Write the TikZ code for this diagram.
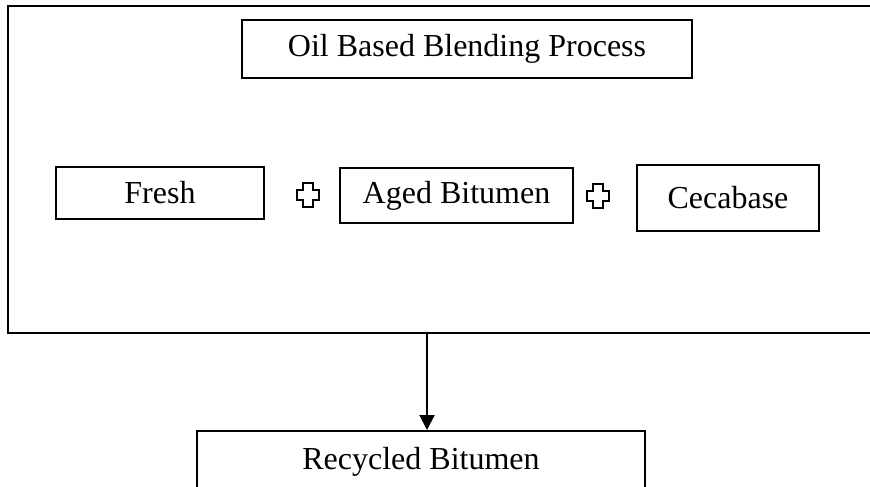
\documentclass[tikz,border=0pt]{standalone}
\usepackage{fontspec}
\setmainfont{Liberation Serif}
\usetikzlibrary{arrows.meta,positioning}

\begin{document}
\begin{tikzpicture}[
  x=1pt,
  y=-1pt,
  box/.style={
    rectangle,
    draw=black,
    line width=2pt,
    align=center,
    inner sep=0pt,
    font=\fontsize{32}{38}\selectfont
  },
  frame/.style={
    rectangle,
    draw=black,
    line width=2.6pt,
    inner sep=0pt
  },
  arrow/.style={-{Triangle[length=15pt,width=15pt]}, line width=2pt},
  plus/.style={draw=black, line width=2.2pt, line join=miter}
]
\useasboundingbox (0,0) rectangle (870,487);

% Outer frame: blending stage
\node[frame, minimum width=872pt, minimum height=327pt] (frame) at (444,169.5) {};
\node[box, minimum width=450pt, minimum height=58pt] (title) at (467,49) {Oil Based Blending Process};

% Row of ingredients
\node[box, minimum width=208pt, minimum height=52pt] (fresh) at (160,193) {Fresh};
\node[box, minimum width=233pt, minimum height=55pt] (aged) at (456.5,195.5) {Aged Bitumen};
\node[box, minimum width=182pt, minimum height=66pt] (cecabase) at (728,198) {Cecabase};

% Plus signs between the boxes
\foreach \px/\py in {308/195, 598/196}
  \draw[plus, shift={(\px,\py)}] (-5,-12) -- (5,-12) -- (5,-5) -- (11,-5) -- (11,5) -- (5,5)
    -- (5,12) -- (-5,12) -- (-5,5) -- (-11,5) -- (-11,-5) -- (-5,-5) -- cycle;

% Result
\node[box, minimum width=448pt, minimum height=62pt] (recycled) at (421,462) {Recycled Bitumen};

\coordinate (drop) at (427,400);
\draw[arrow] (frame.south -| drop) -- (recycled.north -| drop);
\end{tikzpicture}
\end{document}
